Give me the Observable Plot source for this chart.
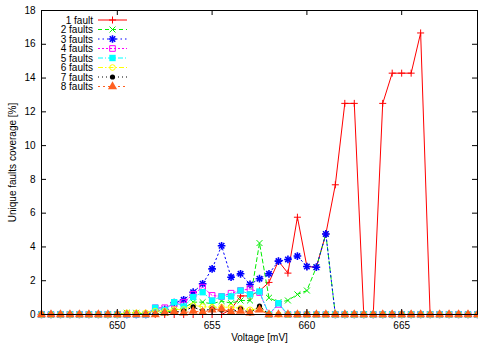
<!DOCTYPE html>
<html><head><meta charset="utf-8">
<script src="https://cdn.jsdelivr.net/npm/d3@7"></script>
<script src="https://cdn.jsdelivr.net/npm/@observablehq/plot@0.6"></script>
<style>body{margin:0;background:#fff}</style>
</head><body><div id="chart"></div>
<script>
// ---- data ----
const voltages = [646,646.5,647,647.5,648,648.5,649,649.5,650,650.5,651,651.5,652,652.5,653,653.5,654,654.5,655,655.5,656,656.5,657,657.5,658,658.5,659,659.5,660,660.5,661,661.5,662,662.5,663,663.5,664,664.5,665,665.5,666,666.5,667,667.5,668,668.5,669];
const seriesNames = ["1 fault","2 faults","3 faults","4 faults","5 faults","6 faults","7 faults","8 faults"];
const fault1 = [0,0,0,0,0,0,0,0,0,0,0,0,0,0,0,0,0,0,0,0,0.3,1.1,1.1,1.4,1.9,3.16,2.45,5.76,2.84,2.8,4.77,7.68,12.5,12.5,0,0,12.5,14.29,14.29,14.29,16.67,0,0,0,0,0,0];
const fault2 = [0,0,0,0,0,0,0,0,0,0.1,0.1,0,0.1,0.1,0.27,0.37,0.73,0.73,0.63,0.8,0.67,0.83,0.83,4.23,0.99,0.73,0.83,1.19,1.42,2.8,4.77,0,0,0,0,0,0,0,0,0,0,0,0,0,0,0,0];
const fault3 = [0,0,0,0,0,0,0,0,0,0,0,0,0.2,0.3,0.7,0.87,1.32,1.82,2.7,4.07,2.21,2.41,1.78,2.12,2.41,3.16,3.26,3.46,2.84,2.8,4.77,0,0,0,0,0,0,0,0,0,0,0,0,0,0,0,0];
const fault4 = [0,0,0,0,0,0,0,0,0,0,0,0,0.4,0.4,0.63,0.73,1.19,1.62,1.13,1.07,1.26,1.42,1.52,1.3,0,0.6,0,0,0,0,0,0,0,0,0,0,0,0,0,0,0,0,0,0,0,0,0];
const fault5 = [0,0,0,0,0,0,0,0,0,0,0,0,0.4,0.27,0.73,0.47,1.03,1.32,0.83,1.07,1.07,1.42,1.19,1.36,0,0.67,0,0,0,0,0,0,0,0,0,0,0,0,0,0,0,0,0,0,0,0,0];
const fault6 = [0,0,0,0,0,0,0,0,0,0.1,0.1,0.1,0.2,0.2,0.3,0.3,0.53,0.47,0.43,0.43,0.43,0.37,0.28,0.35,0,0,0,0,0,0,0,0,0,0,0,0,0,0,0,0,0,0,0,0,0,0,0];
const fault7 = [0,0,0,0,0,0,0,0,0,0,0,0,0,0.1,0.15,0.2,0.45,0.2,0.34,0.27,0.14,0.34,0.1,0.5,0,0,0,0,0,0,0,0,0,0,0,0,0,0,0,0,0,0,0,0,0,0,0];
const fault8 = [0,0,0,0,0,0,0,0,0,0,0,0,0,0.1,0.15,0.1,0.2,0.14,0.27,0.34,0.14,0.2,0.1,0.28,0,0,0,0,0,0,0,0,0,0,0,0,0,0,0,0,0,0,0,0,0,0,0];
const xTicks = [650,655,660,665];
const yTicks = [0,2,4,6,8,10,12,14,16,18];
const xLabel = "Voltage [mV]";
const yLabel = "Unique faults coverage [%]";

// ---- styles ----
const seriesValues = [fault1,fault2,fault3,fault4,fault5,fault6,fault7,fault8];
const colors = ["#ff0000","#00ee00","#0000ff","#ff00ff","#00ffff","#ffff00","#000000","#ff6020"];
const dashes = [null,"4,3","1.5,3","2,2","5,2,1,2","5,2,1.5,2","1,3","2,3"];
// marker spec: [symbol(s), filled, r, strokeWidth]
const markers = [[["plus"],false,2.4,1],[["times"],false,2.8,1],[["plus","times"],false,2.6,1.6],[["square"],false,3.2,1],[["square"],true,3.6,1],[["circle"],false,2.8,1],[["circle"],true,2.6,1],[["triangle"],true,3.4,1]];

const W = 478, H = 345, ML = 41, MR = 1, MT = 10, MB = 31;
const innerW = W - ML - MR, innerH = H - MT - MB;

const marks = [];
seriesValues.forEach((vals, i) => {
  const rows = voltages.map((v, j) => ({v, y: vals[j]}));
  marks.push(Plot.line(rows, {x: "v", y: "y", stroke: colors[i], strokeWidth: 1, strokeDasharray: dashes[i]}));
  const [syms, filled, r, sw] = markers[i];
  syms.forEach(s => {
    marks.push(Plot.dot(rows, {x: "v", y: "y", symbol: s, r,
      stroke: filled ? "none" : colors[i], fill: filled ? colors[i] : "none", strokeWidth: sw}));
  });
});

const chart = Plot.plot({
  width: W, height: H,
  marginLeft: ML, marginRight: MR, marginTop: MT, marginBottom: MB,
  style: {fontFamily: "Liberation Sans, Arial, sans-serif", fontSize: "10px", background: "#fff", color: "#000", overflow: "visible"},
  x: {domain: [646, 669], ticks: xTicks},
  y: {domain: [0, 18], ticks: yTicks},
  marks: [
    ...marks,
    Plot.frame({stroke: "#000", strokeWidth: 1}),
    Plot.tickY(yTicks, {y: d => d, insetRight: innerW - 5, stroke: "#000"}),
    Plot.tickY(yTicks, {y: d => d, insetLeft: innerW - 5, stroke: "#000"}),
    Plot.tickX(xTicks, {x: d => d, insetTop: innerH - 5, stroke: "#000"}),
    Plot.tickX(xTicks, {x: d => d, insetBottom: innerH - 5, stroke: "#000"}),
    Plot.axisY(yTicks, {tickSize: 0, tickPadding: 6, label: null, fill: "#000"}),
    Plot.axisX(xTicks, {tickSize: 0, tickPadding: 7, label: null, fill: "#000"}),
    Plot.text([yLabel], {frameAnchor: "left", rotate: -90, dx: -29, fill: "#000", textAnchor: "middle"}),
    Plot.text([xLabel], {frameAnchor: "bottom", dy: 23, fill: "#000", lineAnchor: "middle"})
  ]
});
document.getElementById("chart").appendChild(chart);

// ---- legend ----
const svg = d3.select(chart);
const lg = svg.append("g").attr("font-family", "Liberation Sans, Arial, sans-serif").attr("font-size", "10px");
const symMap = {plus: d3.symbolPlus, times: d3.symbolTimes, square: d3.symbolSquare, circle: d3.symbolCircle, triangle: d3.symbolTriangle};
seriesNames.forEach((name, i) => {
  const y = 20 + 9.5 * i;
  lg.append("text").attr("x", 93).attr("y", y).attr("dy", "0.35em").attr("text-anchor", "end").attr("fill", "#000").text(name);
  lg.append("line").attr("x1", 98).attr("x2", 127).attr("y1", y).attr("y2", y)
    .attr("stroke", colors[i]).attr("stroke-width", 1).attr("stroke-dasharray", dashes[i]);
  const [syms, filled, r, sw] = markers[i];
  syms.forEach(s => {
    lg.append("path").attr("d", d3.symbol(symMap[s], r * r * Math.PI)())
      .attr("transform", `translate(112.5,${y})`)
      .attr("fill", filled ? colors[i] : "none").attr("stroke", filled ? "none" : colors[i]).attr("stroke-width", sw);
  });
});
</script>
</body></html>
